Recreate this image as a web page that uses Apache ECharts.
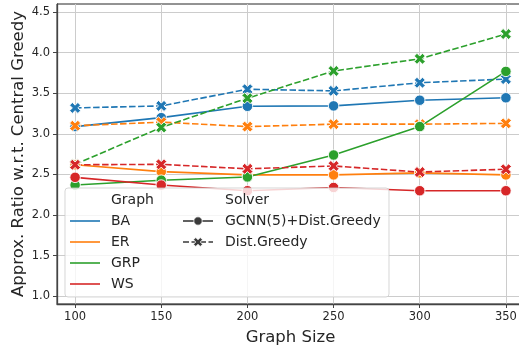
<!DOCTYPE html>
<html>
<head>
<meta charset="utf-8">
<script src="https://cdn.jsdelivr.net/npm/echarts@6/dist/echarts.min.js"></script>
<style>html,body{margin:0;padding:0;background:#fff;}#c{width:519px;height:347px;}</style>
</head>
<body>
<div id="c"></div>
<script>
const graphSizes = [100, 150, 200, 250, 300, 350];
const xTicks = [100, 150, 200, 250, 300, 350];
const yTicks = [1.0, 1.5, 2.0, 2.5, 3.0, 3.5, 4.0, 4.5];

const baGcnn  = [3.09, 3.20, 3.34, 3.345, 3.415, 3.445];
const baDist  = [3.32, 3.345, 3.55, 3.53, 3.63, 3.675];
const erGcnn  = [2.62, 2.535, 2.495, 2.495, 2.52, 2.495];
const erDist  = [3.10, 3.145, 3.09, 3.12, 3.12, 3.13];
const grpGcnn = [2.37, 2.43, 2.47, 2.74, 3.09, 3.77];
const grpDist = [2.625, 3.08, 3.44, 3.775, 3.925, 4.23];
const wsGcnn  = [2.465, 2.37, 2.30, 2.34, 2.30, 2.30];
const wsDist  = [2.62, 2.625, 2.57, 2.605, 2.53, 2.565];

const graphNames = ['BA', 'ER', 'GRP', 'WS'];
const solverNames = ['GCNN(5)+Dist.Greedy', 'Dist.Greedy'];
const colors = ['#1f77b4', '#ff7f0e', '#2ca02c', '#d62728'];

const XPATH = 'path://M2.5,0 L5,2.5 L7.5,0 L10,2.5 L7.5,5 L10,7.5 L7.5,10 L5,7.5 L2.5,10 L0,7.5 L2.5,5 L0,2.5 Z';

function mk(name, vals, color, dashed) {
  return {
    name: name,
    type: 'line',
    data: graphSizes.map((x, i) => [x, vals[i]]),
    symbol: dashed ? XPATH : 'circle',
    symbolSize: dashed ? 11 : 10.5,
    showSymbol: true,
    lineStyle: { color: color, width: 1.6, type: dashed ? [6.5, 2.5] : 'solid' },
    itemStyle: { color: color, borderColor: '#ffffff', borderWidth: 0.9 },
    emphasis: { disabled: true },
    animation: false
  };
}

const series = [
  mk('BA-GCNN', baGcnn, colors[0], false),
  mk('BA-Dist', baDist, colors[0], true),
  mk('ER-GCNN', erGcnn, colors[1], false),
  mk('ER-Dist', erDist, colors[1], true),
  mk('GRP-GCNN', grpGcnn, colors[2], false),
  mk('GRP-Dist', grpDist, colors[2], true),
  mk('WS-GCNN', wsGcnn, colors[3], false),
  mk('WS-Dist', wsDist, colors[3], true)
];

const txtColor = '#262626';
const fontFam = 'DejaVu Sans';

// legend drawn as graphic elements
const legendEls = [];
legendEls.push({
  type: 'rect', z: 100,
  shape: { x: 65, y: 188, width: 324, height: 109, r: 3 },
  style: { fill: 'rgba(255,255,255,0.8)', stroke: 'rgba(204,204,204,0.8)', lineWidth: 1 }
});
legendEls.push({ type: 'text', z: 101, x: 111, y: 200,
  style: { text: 'Graph', font: '14px "DejaVu Sans"', fill: txtColor, verticalAlign: 'middle' } });
const rowY = [221, 242, 263, 284];
graphNames.forEach((g, i) => {
  legendEls.push({ type: 'line', z: 101,
    shape: { x1: 70, y1: rowY[i], x2: 100, y2: rowY[i] },
    style: { stroke: colors[i], lineWidth: 1.6 } });
  legendEls.push({ type: 'text', z: 101, x: 111, y: rowY[i],
    style: { text: g, font: '14px "DejaVu Sans"', fill: txtColor, verticalAlign: 'middle' } });
});
legendEls.push({ type: 'text', z: 101, x: 225, y: 200,
  style: { text: 'Solver', font: '14px "DejaVu Sans"', fill: txtColor, verticalAlign: 'middle' } });
legendEls.push({ type: 'line', z: 101, shape: { x1: 183, y1: 221, x2: 213, y2: 221 },
  style: { stroke: '#3a3a3a', lineWidth: 1.6 } });
legendEls.push({ type: 'circle', z: 102, shape: { cx: 198, cy: 221, r: 4.2 },
  style: { fill: '#3a3a3a', stroke: '#fff', lineWidth: 0.8 } });
legendEls.push({ type: 'line', z: 101, shape: { x1: 183, y1: 242, x2: 213, y2: 242 },
  style: { stroke: '#3a3a3a', lineWidth: 1.6, lineDash: [6, 2.5] } });
(function () {
  const s = 9, ox = 193.5, oy = 237.5;
  const unit = [[0.25,0],[0.5,0.25],[0.75,0],[1,0.25],[0.75,0.5],[1,0.75],[0.75,1],[0.5,0.75],[0.25,1],[0,0.75],[0.25,0.5],[0,0.25]];
  legendEls.push({ type: 'polygon', z: 102,
    shape: { points: unit.map(p => [ox + p[0] * s, oy + p[1] * s]) },
    style: { fill: '#3a3a3a', stroke: '#fff', lineWidth: 0.8 } });
})();
solverNames.forEach((s, i) => {
  legendEls.push({ type: 'text', z: 101, x: 225, y: [221, 242][i],
    style: { text: s, font: '14px "DejaVu Sans"', fill: txtColor, verticalAlign: 'middle' } });
});

const chart = echarts.init(document.getElementById('c'), null, { renderer: 'canvas' });
chart.setOption({
  animation: false,
  backgroundColor: '#ffffff',
  textStyle: { fontFamily: fontFam },
  grid: { left: 57, top: 4, width: 467, height: 300, containLabel: false, outerBoundsMode: 'none',
    show: true, borderColor: '#262626', borderWidth: 1, backgroundColor: 'transparent' },
  xAxis: {
    type: 'value', min: 89.5, max: 360.5,
    name: 'Graph Size', nameLocation: 'middle', nameGap: 25, nameMoveOverlap: false,
    nameTextStyle: { fontSize: 16.5, color: txtColor, fontFamily: fontFam },
    axisLine: { show: true, onZero: false, lineStyle: { color: '#444', width: 1.3 } },
    axisTick: { show: true, length: 4, inside: false, customValues: xTicks, lineStyle: { color: '#444' } },
    axisLabel: { customValues: xTicks, fontSize: 11.5, color: txtColor, margin: 7, fontFamily: fontFam },
    splitLine: { show: true, lineStyle: { color: '#cccccc', width: 1 } }
  },
  yAxis: {
    type: 'value', min: 0.905, max: 4.60,
    name: 'Approx. Ratio w.r.t. Central Greedy', nameLocation: 'middle', nameGap: 30, nameMoveOverlap: false,
    nameTextStyle: { fontSize: 16.5, color: txtColor, fontFamily: fontFam },
    axisLine: { show: true, onZero: false, lineStyle: { color: '#444', width: 1.3 } },
    axisTick: { show: true, length: 4, inside: false, customValues: yTicks, lineStyle: { color: '#444' } },
    axisLabel: { customValues: yTicks, fontSize: 11.5, color: txtColor, margin: 7, fontFamily: fontFam,
      formatter: v => v.toFixed(1) },
    splitLine: { show: true, lineStyle: { color: '#cccccc', width: 1 } }
  },
  series: series,
  graphic: legendEls
});
</script>
</body>
</html>
